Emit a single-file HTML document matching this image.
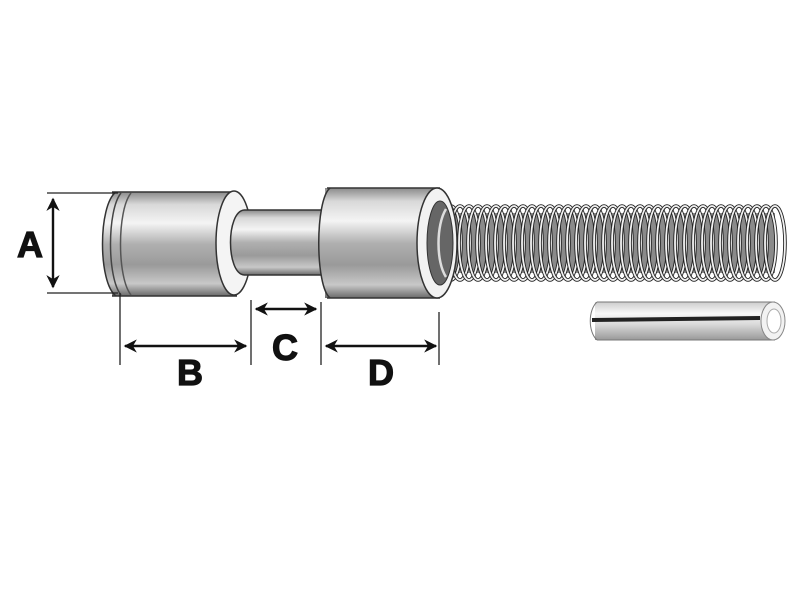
<!DOCTYPE html>
<html><head><style>html,body{margin:0;padding:0;background:#fff;}svg{display:block;}</style></head>
<body>
<svg width="800" height="600" viewBox="0 0 800 600" xmlns="http://www.w3.org/2000/svg">
<defs>
<linearGradient id="m" x1="0" y1="0" x2="0" y2="1">
<stop offset="0" stop-color="#8a8a8a"/><stop offset="0.12" stop-color="#d8d8d8"/><stop offset="0.3" stop-color="#f4f4f4"/><stop offset="0.5" stop-color="#b0b0b0"/><stop offset="0.7" stop-color="#9a9a9a"/><stop offset="0.88" stop-color="#c8c8c8"/><stop offset="1" stop-color="#6a6a6a"/>
</linearGradient>
<linearGradient id="p" x1="0" y1="0" x2="0" y2="1">
<stop offset="0" stop-color="#ccc"/><stop offset="0.3" stop-color="#f8f8f8"/><stop offset="0.6" stop-color="#d8d8d8"/><stop offset="1" stop-color="#999"/>
</linearGradient>
<g id="coil"><ellipse cx="0" cy="0" rx="10" ry="37" fill="none" stroke="#222" stroke-width="3.6"/><ellipse cx="0" cy="0" rx="10" ry="37" fill="none" stroke="#f2f2f2" stroke-width="1.8"/></g>
<marker id="ah" viewBox="0 0 10 10" refX="9" refY="5" markerWidth="5.5" markerHeight="5.5" orient="auto-start-reverse"><path d="M0,0 L10,5 L0,10 L3,5 Z" fill="#111"/></marker>
</defs>

<!-- spring -->
<g transform="translate(0,243)">
<rect x="430" y="-30" width="345" height="60" fill="#8a8a8a"/>
<use href="#coil" x="442"/><use href="#coil" x="451"/><use href="#coil" x="460"/><use href="#coil" x="469"/><use href="#coil" x="478"/><use href="#coil" x="487"/><use href="#coil" x="496"/><use href="#coil" x="505"/><use href="#coil" x="514"/><use href="#coil" x="523"/><use href="#coil" x="532"/><use href="#coil" x="541"/><use href="#coil" x="550"/><use href="#coil" x="559"/><use href="#coil" x="568"/><use href="#coil" x="577"/><use href="#coil" x="586"/><use href="#coil" x="595"/><use href="#coil" x="604"/><use href="#coil" x="613"/><use href="#coil" x="622"/><use href="#coil" x="631"/><use href="#coil" x="640"/><use href="#coil" x="649"/><use href="#coil" x="658"/><use href="#coil" x="667"/><use href="#coil" x="676"/><use href="#coil" x="685"/><use href="#coil" x="694"/><use href="#coil" x="703"/><use href="#coil" x="712"/><use href="#coil" x="721"/><use href="#coil" x="730"/><use href="#coil" x="739"/><use href="#coil" x="748"/><use href="#coil" x="757"/><use href="#coil" x="766"/><use href="#coil" x="775"/>
</g>

<!-- right bushing -->
<rect x="325" y="188" width="115" height="110" fill="url(#m)"/>
<line x1="327" y1="188" x2="440" y2="188" stroke="#333" stroke-width="1.5"/>
<line x1="327" y1="298" x2="440" y2="298" stroke="#333" stroke-width="1.5"/>
<ellipse cx="437" cy="243" rx="20" ry="55" fill="#f2f2f2" stroke="#333" stroke-width="1.5"/>
<ellipse cx="440" cy="243" rx="13" ry="42" fill="#666" stroke="#333" stroke-width="1"/>
<path d="M446,209 C436,225 436,262 446,277" fill="none" stroke="#ddd" stroke-width="2.5"/>

<!-- shaft -->
<rect x="232" y="210" width="95" height="65" fill="url(#m)"/>

<!-- left bushing -->
<rect x="112" y="192" width="125" height="104" fill="url(#m)"/>
<line x1="112" y1="192" x2="237" y2="192" stroke="#333" stroke-width="1.5"/>
<line x1="112" y1="296" x2="237" y2="296" stroke="#333" stroke-width="1.5"/>
<path d="M116,192 C98,205 98,283 116,296" fill="url(#m)" stroke="#333" stroke-width="1.5"/>
<path d="M121,193 C107,210 107,278 121,295" fill="none" stroke="#444" stroke-width="1.5"/>
<path d="M131,193 C117,210 117,278 131,295" fill="none" stroke="#555" stroke-width="1.5"/>
<ellipse cx="234" cy="243" rx="18" ry="52" fill="#f4f4f4" stroke="#333" stroke-width="1.5"/>
<path d="M244,210 C226,212 226,273 244,275 L330,275 L330,210 Z" fill="url(#m)"/>
<path d="M244,210 C226,212 226,273 244,275" fill="none" stroke="#333" stroke-width="1.5"/>
<line x1="244" y1="210" x2="322" y2="210" stroke="#333" stroke-width="1.5"/>
<line x1="244" y1="275" x2="322" y2="275" stroke="#333" stroke-width="1.5"/>
<path d="M330,188 C315,200 315,286 330,298" fill="url(#m)" stroke="#333" stroke-width="1.5"/>

<!-- pin -->
<rect x="595" y="302" width="180" height="38" fill="url(#p)"/>
<line x1="597" y1="302" x2="775" y2="302" stroke="#777"/>
<line x1="597" y1="340" x2="775" y2="340" stroke="#777"/>
<path d="M597,302 C588,310 588,332 597,340" fill="none" stroke="#777"/>
<path d="M592,318 L760,316 L760,320 L592,322 Z" fill="#222"/>
<ellipse cx="773" cy="321" rx="12" ry="19" fill="#f2f2f2" stroke="#888"/>
<ellipse cx="774" cy="321" rx="7" ry="12" fill="#fff" stroke="#aaa"/>

<!-- dimension lines -->
<g stroke="#222" stroke-width="1.3" fill="none">
<line x1="47" y1="193" x2="118" y2="193"/>
<line x1="47" y1="293" x2="118" y2="293"/>
<line x1="120" y1="293" x2="120" y2="365"/>
<line x1="251" y1="300" x2="251" y2="365"/>
<line x1="321" y1="302" x2="321" y2="365"/>
<line x1="439" y1="312" x2="439" y2="365"/>
</g>
<g stroke="#111" stroke-width="2.4" fill="none">
<line x1="53" y1="199" x2="53" y2="287" marker-start="url(#ah)" marker-end="url(#ah)"/>
<line x1="125" y1="346" x2="246" y2="346" marker-start="url(#ah)" marker-end="url(#ah)"/>
<line x1="256" y1="309" x2="316" y2="309" marker-start="url(#ah)" marker-end="url(#ah)"/>
<line x1="326" y1="346" x2="436" y2="346" marker-start="url(#ah)" marker-end="url(#ah)"/>
</g>
<g font-family="Liberation Sans, sans-serif" font-weight="bold" font-size="36" fill="#111" text-anchor="middle" stroke="#111" stroke-width="1.2">
<text x="30" y="257">A</text>
<text x="190" y="385">B</text>
<text x="285" y="360">C</text>
<text x="381" y="385">D</text>
</g>
</svg>
</body></html>
